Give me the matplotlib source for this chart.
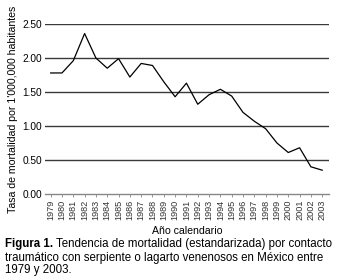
import matplotlib
matplotlib.use("Agg")
import matplotlib.pyplot as plt

plt.rcParams['font.family'] = ['Liberation Sans', 'DejaVu Sans']

years = list(range(1979, 2004))
rates = [1.78, 1.78, 1.96, 2.36, 2.00, 1.85, 1.99, 1.72, 1.92, 1.89,
         1.65, 1.43, 1.63, 1.32, 1.46, 1.54, 1.44, 1.20, 1.07, 0.96,
         0.75, 0.61, 0.68, 0.40, 0.35]
yticks = [0.0, 0.5, 1.0, 1.5, 2.0, 2.5]
ylabel = "Tasa de mortalidad por 1'000,000 habitantes"
xlabel = "Año calendario"
cap_bold = "Figura 1."
cap_line1 = "Tendencia de mortalidad (estandarizada) por contacto"
cap_line2 = "traumático con serpiente o lagarto venenosos en México entre"
cap_line3 = "1979 y 2003."

W, H = 339, 279
fig = plt.figure(figsize=(W / 100, H / 100), dpi=100)
ax = fig.add_axes([45 / W, (H - 194) / H, (329 - 45) / W, 170 / H])

for v in yticks[1:]:
    ax.axhline(v, color='#3a3a3a', lw=1.0, zorder=1)
ax.plot(years, rates, color='black', lw=0.9, zorder=3)

ax.set_xlim(1978.5, 2003.6)
ax.set_ylim(0, 2.5)
ax.set_yticks(yticks)
ax.set_yticklabels([f"{v:.2f}" for v in yticks], fontsize=7.3)
ax.set_xticks(years)
ax.set_xticklabels([str(y) for y in years], rotation=90, fontsize=6.6,
                   color='#333333')
ax.tick_params(axis='y', length=0, pad=2)
ax.tick_params(axis='x', length=2, color='#888888', pad=2, width=0.6)
for s in ['top', 'right', 'left']:
    ax.spines[s].set_visible(False)
ax.spines['bottom'].set_color('#888888')
ax.spines['bottom'].set_linewidth(1.0)

ax.set_xlabel(xlabel, fontsize=7.6, labelpad=4.5)
ax.set_ylabel(ylabel, fontsize=7.6, labelpad=3)

fs = 8.3
y1 = 1 - 247.5 / H
t = fig.text(5 / W, y1, cap_bold, fontsize=fs, fontweight='bold', va='baseline')
fig.canvas.draw()
bb = t.get_window_extent()
fig.text((bb.x1 + 3) / W, y1, cap_line1, fontsize=fs, va='baseline')
fig.text(5 / W, 1 - 260.5 / H, cap_line2, fontsize=fs, va='baseline')
fig.text(5 / W, 1 - 273 / H, cap_line3, fontsize=fs, va='baseline')

fig.savefig('out.png', dpi=100)
